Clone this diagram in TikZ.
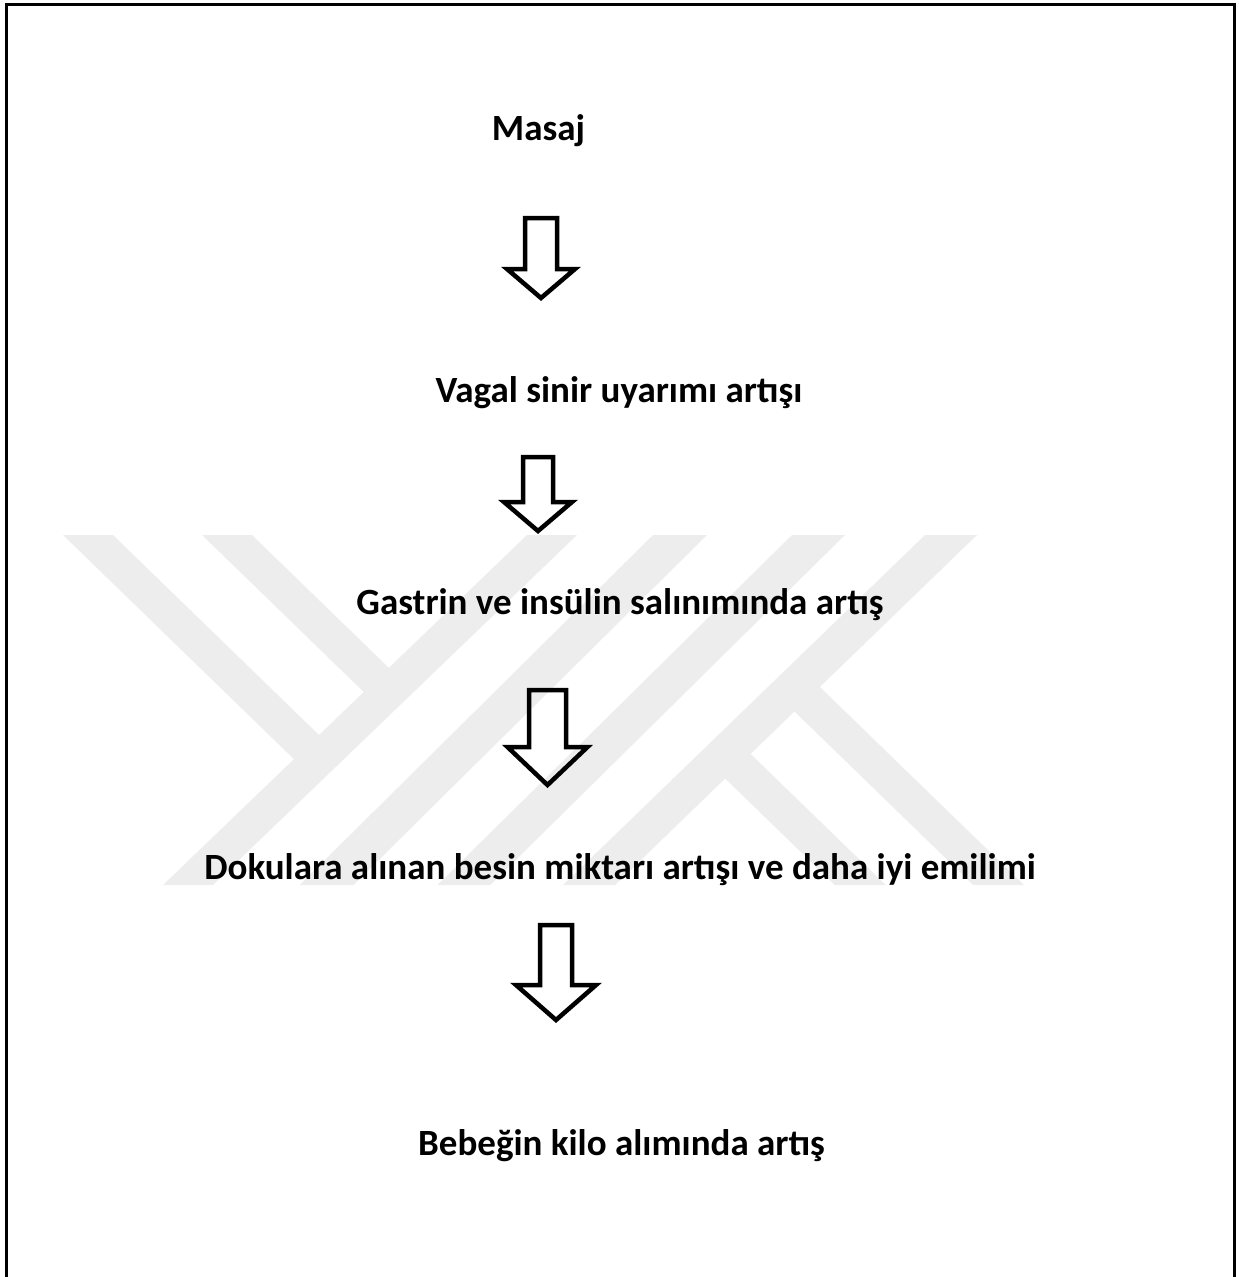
\documentclass[tikz,border=0pt]{standalone}
\usepackage{fontspec}
\setmainfont{Carlito}
\definecolor{wmgray}{RGB}{237,237,237}
\tikzset{
  lbl/.style={anchor=base, inner sep=0pt, font=\fontsize{37}{44}\selectfont\bfseries},
  arrowline/.style={draw=black, line width=4.5pt, line join=miter},
  wmband/.style={fill=wmgray, draw=none},
  frameline/.style={draw=black, line width=3pt}
}
\newcommand{\blockarr}[8]{%
  \coordinate (#1) at (#2,#3);
  \draw[arrowline] (#2-#4,#3) -- (#2+#4,#3) -- (#2+#4,#6) -- (#2+#5,#6) -- (#2,#7) -- (#2-#5,#6) -- (#2-#4,#6) -- cycle;
  \coordinate (#8) at (#2,#7);}
\begin{document}
\begin{tikzpicture}[x=1pt,y=-1pt]
\useasboundingbox (0,0) rectangle (1239,1277);
% frame
\draw[frameline] (6,1300) -- (6,4) -- (1234.5,4) -- (1234.5,1300);
% watermark
\fill[wmband] (63,535) -- (113,535) -- (331.4,747) -- (306.3,771.2) -- cycle;
\fill[wmband] (202,535) -- (252,535) -- (401.3,679.9) -- (376.2,704.1) -- cycle;
\fill[wmband] (527,535) -- (577,535) -- (213,885) -- (163,885) -- cycle;
\fill[wmband] (653,535) -- (707,535) -- (353.5,885) -- (299.5,885) -- cycle;
\fill[wmband] (792,535) -- (845,535) -- (490.4,885) -- (437.4,885) -- cycle;
\fill[wmband] (925,535) -- (977,535) -- (615.1,885) -- (563.1,885) -- cycle;
\fill[wmband] (810,677.3) -- (1023.9,885) -- (973.2,885) -- (785,702.3) -- cycle;
\fill[wmband] (740.7,744.3) -- (885.7,885) -- (834.7,885) -- (715.5,769.1) -- cycle;
% texts
\node[lbl] (masaj) at (538.5,140) {Masaj};
\node[lbl] (vagal) at (619,402) {Vagal sinir uyarımı artışı};
\node[lbl] (gastrin) at (620,614) {Gastrin ve insülin salınımında artış};
\node[lbl] (dokular) at (620,879) {Dokulara alınan besin miktarı artışı ve daha iyi emilimi};
\node[lbl] (bebek) at (621.5,1155) {Bebeğin kilo alımında artış};
% arrows
\blockarr{a1s}{541}{218}{16}{34}{269}{298}{a1e}
\blockarr{a2s}{538}{457}{15}{34}{502}{531}{a2e}
\blockarr{a3s}{547.5}{690}{18.5}{40}{747}{785}{a3e}
\blockarr{a4s}{556}{925}{16}{40}{985}{1020}{a4e}
\end{tikzpicture}
\end{document}
